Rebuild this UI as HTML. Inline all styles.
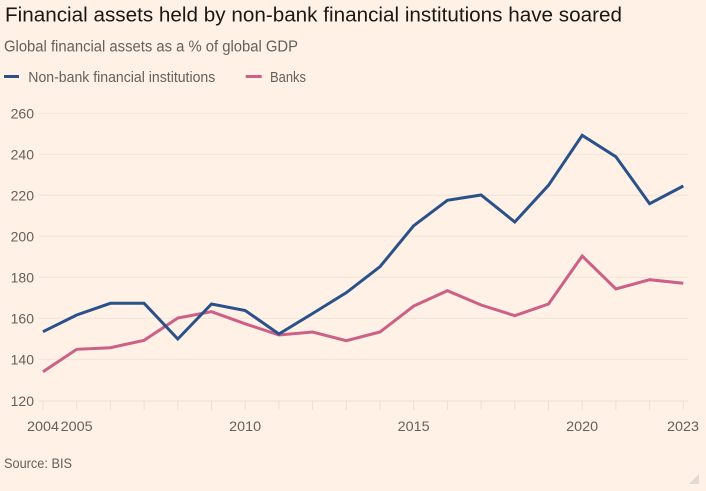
<!DOCTYPE html>
<html><head><meta charset="utf-8"><style>
html,body{margin:0;padding:0;background:#fff1e5;}
svg{display:block;font-family:"Liberation Sans",sans-serif;}
</style></head><body>
<svg width="706" height="491" viewBox="0 0 706 491" xmlns="http://www.w3.org/2000/svg">
<rect width="706" height="491" fill="#fff1e5"/>
<text x="5" y="21.7" font-size="20" fill="#1a1817" textLength="617" lengthAdjust="spacingAndGlyphs">Financial assets held by non-bank financial institutions have soared</text>
<text x="4" y="51.5" font-size="15.5" fill="#66605c" textLength="294" lengthAdjust="spacingAndGlyphs">Global financial assets as a % of global GDP</text>
<line x1="4" y1="76.5" x2="19" y2="76.5" stroke="#2a5189" stroke-width="3"/>
<text x="28.3" y="82" font-size="14.5" fill="#66605c" textLength="187" lengthAdjust="spacingAndGlyphs">Non-bank financial institutions</text>
<line x1="245.7" y1="76.5" x2="261.7" y2="76.5" stroke="#cc6086" stroke-width="3"/>
<text x="270" y="82" font-size="14.5" fill="#66605c" textLength="36" lengthAdjust="spacingAndGlyphs">Banks</text>
<g stroke="#efe3d8" stroke-width="1">
<line x1="39" y1="113.3" x2="688" y2="113.3"/>
<line x1="39" y1="154.3" x2="688" y2="154.3"/>
<line x1="39" y1="195.3" x2="688" y2="195.3"/>
<line x1="39" y1="236.3" x2="688" y2="236.3"/>
<line x1="39" y1="277.3" x2="688" y2="277.3"/>
<line x1="39" y1="318.3" x2="688" y2="318.3"/>
<line x1="39" y1="359.3" x2="688" y2="359.3"/>
</g>
<line x1="39" y1="401" x2="688" y2="401" stroke="#ebdfd5" stroke-width="1"/>
<g stroke="#ebdfd5" stroke-width="1">
<line x1="43" y1="401" x2="43" y2="410"/><line x1="76.7" y1="401" x2="76.7" y2="410"/><line x1="110.4" y1="401" x2="110.4" y2="410"/><line x1="144.1" y1="401" x2="144.1" y2="410"/><line x1="177.8" y1="401" x2="177.8" y2="410"/><line x1="211.5" y1="401" x2="211.5" y2="410"/><line x1="245.2" y1="401" x2="245.2" y2="410"/><line x1="278.9" y1="401" x2="278.9" y2="410"/><line x1="312.6" y1="401" x2="312.6" y2="410"/><line x1="346.3" y1="401" x2="346.3" y2="410"/><line x1="380" y1="401" x2="380" y2="410"/><line x1="413.7" y1="401" x2="413.7" y2="410"/><line x1="447.4" y1="401" x2="447.4" y2="410"/><line x1="481.1" y1="401" x2="481.1" y2="410"/><line x1="514.8" y1="401" x2="514.8" y2="410"/><line x1="548.5" y1="401" x2="548.5" y2="410"/><line x1="582.2" y1="401" x2="582.2" y2="410"/><line x1="615.9" y1="401" x2="615.9" y2="410"/><line x1="649.6" y1="401" x2="649.6" y2="410"/><line x1="683.3" y1="401" x2="683.3" y2="410"/>
</g>
<g font-size="14" fill="#66605c" text-anchor="end">
<text x="34" y="118.5">260</text>
<text x="34" y="159.5">240</text>
<text x="34" y="200.5">220</text>
<text x="34" y="241.5">200</text>
<text x="34" y="282.5">180</text>
<text x="34" y="323.5">160</text>
<text x="34" y="364.5">140</text>
<text x="34" y="406">120</text>
</g>
<g font-size="14" fill="#66605c" text-anchor="middle">
<text x="43" y="431" textLength="32" lengthAdjust="spacingAndGlyphs">2004</text>
<text x="76.7" y="431" textLength="32" lengthAdjust="spacingAndGlyphs">2005</text>
<text x="245.2" y="431" textLength="32" lengthAdjust="spacingAndGlyphs">2010</text>
<text x="413.7" y="431" textLength="32" lengthAdjust="spacingAndGlyphs">2015</text>
<text x="582.2" y="431" textLength="32" lengthAdjust="spacingAndGlyphs">2020</text>
<text x="683" y="431" textLength="32" lengthAdjust="spacingAndGlyphs">2023</text>
</g>
<polyline fill="none" stroke="#cc6086" stroke-width="3" stroke-linejoin="miter" points="43,371.7 76.7,349.3 110.4,347.7 144.1,340.3 177.8,318 211.5,311.7 245.2,323.8 278.9,335 312.6,332 346.3,340.7 380,332 413.7,306 447.4,290.7 481.1,305 514.8,315.7 548.5,304 582.2,256 615.9,289 649.6,279.7 683.3,283.3"/>
<polyline fill="none" stroke="#2a5189" stroke-width="3" stroke-linejoin="miter" points="43,331.7 76.7,315 110.4,303.3 144.1,303.3 177.8,339 211.5,304 245.2,310.5 278.9,334 312.6,313.5 346.3,292.7 380,266.7 413.7,225.7 447.4,200.3 481.1,195 514.8,222 548.5,185.3 582.2,135.3 615.9,156.7 649.6,203.7 683.3,186"/>
<text x="4" y="468" font-size="13.5" fill="#66605c" textLength="68" lengthAdjust="spacingAndGlyphs">Source: BIS</text>
<polygon points="699,474 699,484 689,484" fill="#e3dbd3"/>
</svg>
</body></html>
